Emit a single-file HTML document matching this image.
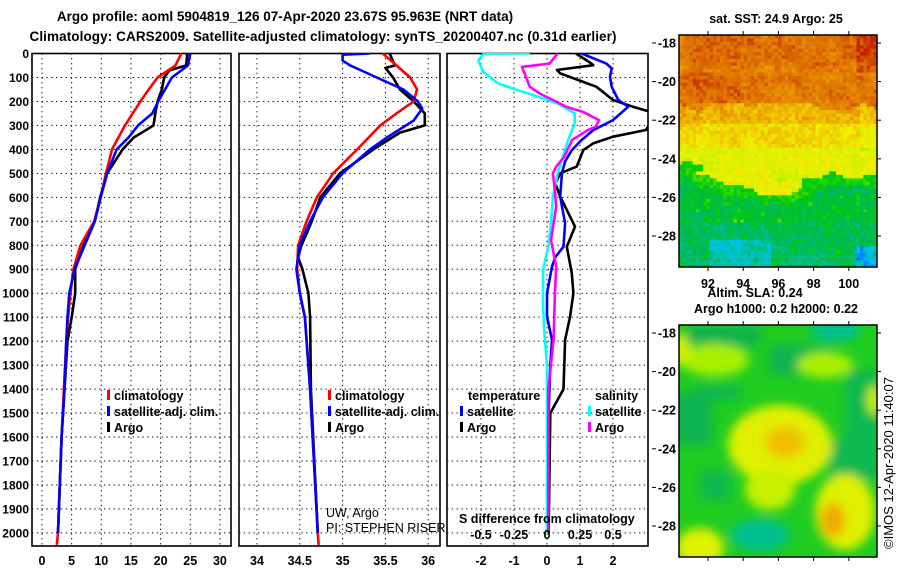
<!DOCTYPE html>
<html><head><meta charset="utf-8"><style>
html,body{margin:0;padding:0;background:#fff;width:900px;height:580px;overflow:hidden}
svg{display:block;font-family:"Liberation Sans",sans-serif}
.b{font-weight:bold}
</style></head><body>
<svg id="s" width="900" height="580" viewBox="0 0 900 580" xmlns="http://www.w3.org/2000/svg">
<defs>
<filter id="bl" x="-50%" y="-50%" width="200%" height="200%"><feGaussianBlur stdDeviation="5"/></filter>
<clipPath id="c1"><rect x="32" y="53" width="199" height="493"/></clipPath>
<clipPath id="c2"><rect x="239" y="53" width="201" height="493"/></clipPath>
<clipPath id="c3"><rect x="447" y="53" width="201" height="493"/></clipPath>
<clipPath id="cm2"><rect x="679" y="325" width="198" height="232"/></clipPath>
</defs>
<text class="b" x="285" y="21" font-size="13.5" text-anchor="middle">Argo profile: aoml 5904819_126 07-Apr-2020 23.67S 95.963E (NRT data)</text>
<text class="b" x="323" y="41" font-size="13.5" text-anchor="middle" textLength="587">Climatology: CARS2009. Satellite-adjusted climatology: synTS_20200407.nc (0.31d earlier)</text>
<g id="grids"></g>
<g id="lines"></g>
<g id="labels"></g>
<g id="map1"></g>
<g id="map2" clip-path="url(#cm2)">
<rect x="679" y="325" width="198" height="232" fill="#20cc20"/>
<g filter="url(#bl)">
<rect x="685" y="325" width="75" height="22" fill="#08b450"/>
<ellipse cx="835" cy="330" rx="25" ry="12" fill="#00c090"/>
<rect x="690" y="385" width="50" height="15" fill="#10b850"/>
<rect x="770" y="345" width="60" height="30" fill="#08b450"/>
<rect x="672" y="395" width="40" height="50" fill="#08b450"/>
<rect x="845" y="370" width="35" height="70" fill="#10b850"/>
<rect x="830" y="440" width="50" height="40" fill="#10b850"/>
<rect x="700" y="470" width="30" height="30" fill="#10b850"/>
<ellipse cx="760" cy="535" rx="30" ry="16" fill="#00c090"/>
<ellipse cx="715" cy="360" rx="34" ry="16" fill="#a8f000"/>
<ellipse cx="825" cy="365" rx="28" ry="13" fill="#a8f000"/>
<ellipse cx="680" cy="350" rx="10" ry="16" fill="#d0f000"/>
<ellipse cx="780" cy="445" rx="52" ry="40" fill="#e0f000"/>
<ellipse cx="770" cy="490" rx="25" ry="20" fill="#c8f000"/>
<ellipse cx="845" cy="512" rx="30" ry="38" fill="#e0f000"/>
<ellipse cx="700" cy="548" rx="24" ry="20" fill="#e0f000"/>
<ellipse cx="875" cy="400" rx="8" ry="15" fill="#c8f000"/>
<ellipse cx="785" cy="442" rx="20" ry="16" fill="#f0c000"/>
<ellipse cx="833" cy="520" rx="12" ry="17" fill="#f0a800"/>
</g>
</g>
<rect x="679" y="325" width="198" height="232" fill="none" stroke="#000" stroke-width="1.5"/>
<text class="b" x="776" y="23" font-size="12.5" text-anchor="middle">sat. SST: 24.9 Argo: 25</text>
<text class="b" x="755" y="297" font-size="12.5" text-anchor="middle">Altim. SLA: 0.24</text>
<text class="b" x="776" y="313" font-size="12.5" text-anchor="middle">Argo h1000: 0.2 h2000: 0.22</text>
<text x="893" y="463" font-size="13" text-anchor="middle" transform="rotate(-90 893 463)">©IMOS 12-Apr-2020 11:40:07</text>
</svg>
<script>
// depth levels and profiles
const depthT = [0,50,70,100,150,200,250,300,320,350,400,500,600,700,800,900,1000,1100,1200,1400,1600,1800,2000];
const argoT  = [24.5,24.3,21.5,20.6,20.2,19.5,19.1,18.8,17.5,15.5,13.6,11.0,9.8,8.9,7.0,5.6,5.6,5.0,4.3,3.8,3.3,3.0,2.7];
const depthC = [0,50,100,150,200,300,400,500,600,700,800,900,1000,1100,1200,1400,1600,1800,2000,2050];
const climT  = [23.5,22.5,19.5,18.0,16.6,14.0,11.8,10.8,9.9,8.8,6.5,5.3,4.8,4.4,4.1,3.7,3.3,3.0,2.7,2.5];
const depthB = [0,50,100,200,250,300,350,400,500,600,700,800,900,1000,1100,1200,1400,1600,1800,2000];
const satT   = [25.0,24.6,21.9,19.6,18.6,16.2,14.6,12.6,11.0,9.9,8.9,7.2,5.5,4.6,4.3,4.1,3.8,3.3,3.0,2.7];

const depthS  = [0,50,60,100,150,200,250,300,330,400,500,600,700,800,850,900,1000,1100,1400,2000];
const argoS   = [35.55,35.61,35.5,35.59,35.67,35.83,35.96,35.96,35.67,35.36,34.97,34.74,34.64,34.52,34.48,34.53,34.60,34.62,34.63,34.71];
const depthSC = [0,100,150,200,250,300,400,500,600,700,800,900,1000,1100,1400,2000,2050];
const climS   = [35.47,35.79,35.87,35.83,35.63,35.44,35.17,34.89,34.70,34.58,34.48,34.47,34.50,34.56,34.62,34.71,34.72];
const depthSB = [0,5,30,50,100,150,200,230,280,350,400,500,600,700,800,900,1000,1100,1400,2000];
const satS    = [35.32,35.0,35.0,35.09,35.4,35.71,35.88,35.93,35.83,35.52,35.32,35.0,34.77,34.62,34.50,34.46,34.50,34.56,34.62,34.71];

// differences (T in degC, S in psu)
const depthDB = [0,42,62,97,139,194,222,278,320,361,403,450,500,597,708,806,850,889,1000,1097,1195,1300,1500,2000];
const satTdiff = [1.05,1.8,1.96,1.91,1.96,2.16,2.46,2.0,1.4,1.05,0.75,0.55,0.45,0.4,0.55,0.5,0.25,0.15,0.0,0.0,0.15,0.1,0.05,0.05];
const depthDK = [0,42,49,69,83,139,194,222,250,319,347,375,403,472,500,542,597,667,722,806,917,1000,1097,1195,1400,1500,2000];
const argoTdiff = [0.88,1.35,1.4,0.3,0.4,1.5,2.0,2.6,3.3,3.0,2.0,1.4,1.1,0.9,0.4,0.25,0.4,0.65,0.85,0.6,0.75,0.8,0.7,0.55,0.5,0.1,0.05];
const depthDC = [0,1,28,76,125,153,180,208,250,292,361,431,500,597,708,806,903,1055,1167,1300,2000];
const satSdiff = [-0.13,-0.48,-0.52,-0.485,-0.37,-0.22,-0.07,0.08,0.21,0.21,0.16,0.12,0.08,0.045,0.03,0.01,-0.03,-0.03,-0.02,0.0,0.0];
const depthDM = [0,42,56,83,139,167,194,222,243,278,306,319,361,431,472,500,570,639,778,889,1000,1195,1400,2000];
const argoSdiff = [0.08,0.02,-0.19,-0.17,-0.13,-0.055,0.045,0.145,0.27,0.395,0.37,0.31,0.19,0.13,0.07,0.045,0.06,0.07,0.03,0.07,0.06,0.05,0.01,0.01];

const depthTicks = [0,100,200,300,400,500,600,700,800,900,1000,1100,1200,1300,1400,1500,1600,1700,1800,1900,2000];
const tTicks = [0,5,10,15,20,25,30];
const sTicks = [34,34.5,35,35.5,36];
const dTicks = [-2,-1,0,1,2];
const dsTicks = [-0.5,-0.25,0,0.25,0.5];
const latTicks = [-18,-20,-22,-24,-26,-28];
const lonTicks = [92,94,96,98,100];

const NS='http://www.w3.org/2000/svg';
const yD = d => 53.5 + d*0.2397;
const x1 = v => 42 + 5.93*v;
const x2 = v => 257 + 85.6*(v-34);
const x3 = v => 547 + 33*v;
const x3s = v => 547 + 132*v;
const latY1 = l => 43 + (-18 - l)*19.3;
const latY2 = l => 333 + (-18 - l)*19.3;
const lonX = l => 708 + (l-92)*17.6;

function mk(tag, attrs, parent){const e=document.createElementNS(NS,tag);for(const k in attrs)e.setAttribute(k,attrs[k]);parent.appendChild(e);return e;}
const G=document.getElementById('grids'),L=document.getElementById('lines'),T=document.getElementById('labels');

const panels=[{x0:32,x1:231,xs:x1,ticks:tTicks,clip:'c1',name:'temperature-panel'},
 {x0:239,x1:440,xs:x2,ticks:sTicks,clip:'c2',name:'salinity-panel'},
 {x0:447,x1:648,xs:x3,ticks:dTicks,clip:'c3',name:'difference-panel'}];
panels.forEach(p=>{
  const g=mk('g',{},G);
  
  
  depthTicks.forEach(d=>{const l=mk('line',{x1:p.x0,x2:p.x1,y1:yD(d),y2:yD(d),stroke:'#000','stroke-width':1,'stroke-dasharray':'1.3,3.5'},g);
    });
  p.ticks.forEach(v=>{const X=p.xs(v);const l=mk('line',{x1:X,x2:X,y1:53.5,y2:546,stroke:'#000','stroke-width':1,'stroke-dasharray':'1.3,3.5'},g);
    
    const t=mk('text',{x:X,y:565,'font-size':12.5,'text-anchor':'middle','class':'b'},T);t.textContent=String(v);
    });
  const r=mk('rect',{x:p.x0,y:53.5,width:p.x1-p.x0,height:546-53.5,fill:'none',stroke:'#000','stroke-width':1.6},g);
  
});
depthTicks.forEach(d=>{const t=mk('text',{x:29,y:yD(d)+4.5,'font-size':12,'text-anchor':'end','class':'b'},T);t.textContent=String(d);
  });
dsTicks.forEach(v=>{const t=mk('text',{x:x3s(v),y:539,'font-size':12.5,'text-anchor':'middle','class':'b'},T);t.textContent=String(v);
  });

function line(xs,depths,vals,color,clip,name){
  const pts=depths.map((d,i)=>xs(vals[i]).toFixed(1)+','+yD(d).toFixed(1)).join(' ');
  const e=mk('polyline',{points:pts,fill:'none',stroke:color,'stroke-width':2.6,'stroke-linejoin':'round','clip-path':'url(#'+clip+')'},L);
  
  
}
line(x1,depthT,argoT,'#000','c1','argo-temperature-line');
line(x1,depthC,climT,'#f00','c1','climatology-temperature-line');
line(x1,depthB,satT,'#00f','c1','satellite-temperature-line');
line(x2,depthS,argoS,'#000','c2','argo-salinity-line');
line(x2,depthSC,climS,'#f00','c2','climatology-salinity-line');
line(x2,depthSB,satS,'#00f','c2','satellite-salinity-line');
line(x3,depthDK,argoTdiff,'#000','c3','argo-t-diff-line');
line(x3,depthDB,satTdiff,'#00f','c3','satellite-t-diff-line');
line(x3s,depthDC,satSdiff,'#0ff','c3','satellite-s-diff-line');
line(x3s,depthDM,argoSdiff,'#f0f','c3','argo-s-diff-line');

function txt(x,y,s,opts,name){const t=mk('text',Object.assign({x:x,y:y,'font-size':12.5,'class':'b'},opts||{}),T);t.textContent=s;
  
  return t;}
function mark(x,y,c){const r=mk('rect',{x:x,y:y-10,width:3,height:10,fill:c},T);}
[[107,114],[328,335]].forEach(([m,t])=>{
  mark(m,400,'#f00');txt(t,400,'climatology',{},'legend-climatology');
  mark(m,416,'#00f');txt(t,416,'satellite-adj. clim.',{},'legend-satellite-adj');
  mark(m,432,'#000');txt(t,432,'Argo',{},'legend-argo');
});
txt(468,400,'temperature',{},'legend-temperature-heading');
mark(460,416,'#00f');txt(467,416,'satellite',{},'legend-t-satellite');
mark(460,432,'#000');txt(467,432,'Argo',{},'legend-t-argo');
txt(595,400,'salinity',{},'legend-salinity-heading');
mark(588,416,'#0ff');txt(595,416,'satellite',{},'legend-s-satellite');
mark(588,432,'#f0f');txt(595,432,'Argo',{},'legend-s-argo');
txt(459,523,'S difference from climatology',{},'s-diff-axis-title');
txt(326,517,'UW, Argo',{'class':'','font-size':12.5},'pi-institution');
txt(326,532,'PI: STEPHEN RISER',{'class':'','font-size':12.5},'pi-name');

// map tick labels
latTicks.forEach(l=>{
  [latY1,latY2].forEach(f=>{const t=txt(676,f(l)+4.5,String(l).replace('\u2212','-'),{'text-anchor':'end','font-size':12.5},'lat-tick-label');
    mk('line',{x1:652,x2:656,y1:f(l),y2:f(l),stroke:'#000'},T);
    mk('line',{x1:877,x2:881,y1:f(l),y2:f(l),stroke:'#000'},T);});
});
lonTicks.forEach(l=>{const t=txt(lonX(l),288,String(l),{'text-anchor':'middle','font-size':12.5},'lon-tick-label');
  [31,267,321,557].forEach(y=>mk('line',{x1:lonX(l),x2:lonX(l),y1:y,y2:y+4,stroke:'#000'},T));});

// SST map (image raster)
const stops=[[0,[0,0,140]],[0.1,[0,80,255]],[0.2,[0,192,255]],[0.3,[0,192,160]],[0.4,[0,184,72]],[0.5,[0,208,0]],[0.56,[96,224,0]],[0.62,[200,240,0]],[0.7,[240,240,0]],[0.78,[240,192,0]],[0.85,[232,144,0]],[0.92,[220,110,0]],[1,[192,32,0]]];
function cmap(t){t=Math.max(0,Math.min(1,t));for(let i=1;i<stops.length;i++){if(t<=stops[i][0]){const a=stops[i-1],b=stops[i];const f=(t-a[0])/(b[0]-a[0]);return 'rgb('+a[1].map((c,k)=>Math.round(c+(b[1][k]-c)*f)).join(',')+')';}}return 'rgb(192,32,0)';}
function h(i,j){let n=(i*374761393+j*668265263)>>>0;n=((n^(n>>>13))*1274126177)>>>0;return ((n^(n>>>16))&1023)/1023;}
function sm(i,j){return (h(i>>2,j>>2)+h((i+2)>>2,(j+1)>>2))/2;}
const M=document.getElementById('map1');
const cols=58,rows=68,cw=198/cols,ch=232/rows;
for(let j=0;j<rows;j++)for(let i=0;i<cols;i++){
  const fx=i/cols,fy=j/rows;
  let t;
  const yb=0.6+0.08*Math.exp(-Math.pow((fx-0.45)/0.2,2))-0.04*Math.exp(-Math.pow((fx-0.05)/0.1,2))+(sm(i,j)-0.5)*0.05;
  const yo=0.3+(sm(i+7,j)-0.5)*0.05;
  if(fy<0.12)t=0.91; else if(fy<yo)t=0.89+(fy>0.15&&fy<0.28&&fx<0.3?0.03:0);
  else if(fy<0.38)t=0.8; else if(fy<0.48)t=0.74; else if(fy<yb)t=0.67;
  else if(fy<yb+0.05)t=0.5; else if(fy<0.8)t=0.42; else t=0.37;
  if(fx>0.88&&fy<0.15)t=0.97;
  if(fy>0.88&&fx>0.15&&fx<0.45)t=0.26;
  if(fy>0.9&&fx>0.88)t=0.18;
  if(fx>0.9&&fy>0.3&&fy<0.5)t-=0.05;
  t+= (h(i,j)-0.5)*0.08 + (sm(i,j)-0.5)*0.06;
  if(fy>yb+0.05 && h(i+3,j+5)>0.85) t+=0.08;
  mk('rect',{x:(679+i*cw).toFixed(2),y:(35+j*ch).toFixed(2),width:(cw+0.3).toFixed(2),height:(ch+0.3).toFixed(2),fill:cmap(t)},M);
}
mk('rect',{x:679,y:35,width:198,height:232,fill:'none',stroke:'#000','stroke-width':1.5},M);
</script>
</body></html>
